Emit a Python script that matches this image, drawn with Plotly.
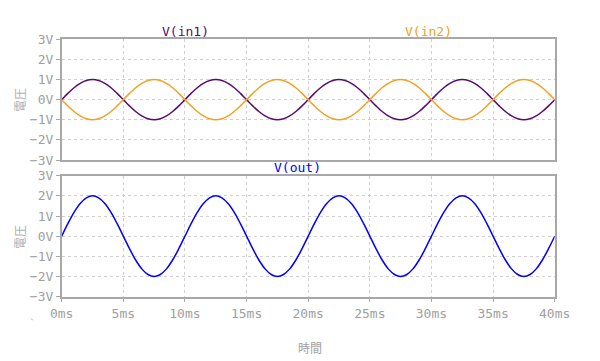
import plotly.graph_objects as go
from plotly.subplots import make_subplots

time_ms = [0, 0.5, 1, 1.5, 2, 2.5, 3, 3.5, 4, 4.5, 5, 5.5, 6, 6.5, 7, 7.5, 8, 8.5, 9, 9.5,
           10, 10.5, 11, 11.5, 12, 12.5, 13, 13.5, 14, 14.5, 15, 15.5, 16, 16.5, 17, 17.5, 18, 18.5, 19, 19.5,
           20, 20.5, 21, 21.5, 22, 22.5, 23, 23.5, 24, 24.5, 25, 25.5, 26, 26.5, 27, 27.5, 28, 28.5, 29, 29.5,
           30, 30.5, 31, 31.5, 32, 32.5, 33, 33.5, 34, 34.5, 35, 35.5, 36, 36.5, 37, 37.5, 38, 38.5, 39, 39.5,
           40]

v_in1 = [0, .31, .59, .81, .95, 1, .95, .81, .59, .31, 0, -.31, -.59, -.81, -.95, -1, -.95, -.81, -.59, -.31,
         0, .31, .59, .81, .95, 1, .95, .81, .59, .31, 0, -.31, -.59, -.81, -.95, -1, -.95, -.81, -.59, -.31,
         0, .31, .59, .81, .95, 1, .95, .81, .59, .31, 0, -.31, -.59, -.81, -.95, -1, -.95, -.81, -.59, -.31,
         0, .31, .59, .81, .95, 1, .95, .81, .59, .31, 0, -.31, -.59, -.81, -.95, -1, -.95, -.81, -.59, -.31,
         0]

v_in2 = [0, -.31, -.59, -.81, -.95, -1, -.95, -.81, -.59, -.31, 0, .31, .59, .81, .95, 1, .95, .81, .59, .31,
         0, -.31, -.59, -.81, -.95, -1, -.95, -.81, -.59, -.31, 0, .31, .59, .81, .95, 1, .95, .81, .59, .31,
         0, -.31, -.59, -.81, -.95, -1, -.95, -.81, -.59, -.31, 0, .31, .59, .81, .95, 1, .95, .81, .59, .31,
         0, -.31, -.59, -.81, -.95, -1, -.95, -.81, -.59, -.31, 0, .31, .59, .81, .95, 1, .95, .81, .59, .31,
         0]

v_out = [0, .62, 1.18, 1.62, 1.9, 2, 1.9, 1.62, 1.18, .62, 0, -.62, -1.18, -1.62, -1.9, -2, -1.9, -1.62, -1.18, -.62,
         0, .62, 1.18, 1.62, 1.9, 2, 1.9, 1.62, 1.18, .62, 0, -.62, -1.18, -1.62, -1.9, -2, -1.9, -1.62, -1.18, -.62,
         0, .62, 1.18, 1.62, 1.9, 2, 1.9, 1.62, 1.18, .62, 0, -.62, -1.18, -1.62, -1.9, -2, -1.9, -1.62, -1.18, -.62,
         0, .62, 1.18, 1.62, 1.9, 2, 1.9, 1.62, 1.18, .62, 0, -.62, -1.18, -1.62, -1.9, -2, -1.9, -1.62, -1.18, -.62,
         0]

y_ticks = [-3, -2, -1, 0, 1, 2, 3]
y_labels = ["−3V", "−2V", "−1V", "0V", "1V", "2V", "3V"]
x_ticks = [0, 5, 10, 15, 20, 25, 30, 35, 40]
x_labels = ["0ms", "5ms", "10ms", "15ms", "20ms", "25ms", "30ms", "35ms", "40ms"]

C_IN1 = "#5a0a6e"
C_IN2 = "#f5a020"
C_OUT = "#0000ff"
MONO = "DejaVu Sans Mono"
CJK = "Noto Sans CJK JP"
GRAY = "#a0a0a0"

W, H, OFF = 600, 361, 8  # page body margin offset

fig = make_subplots(rows=2, cols=1)
fig.add_trace(go.Scatter(x=time_ms, y=v_in1, mode="lines", line=dict(color=C_IN1, width=1.5, shape="spline"),
                         name="V(in1)", showlegend=False), row=1, col=1)
fig.add_trace(go.Scatter(x=time_ms, y=v_in2, mode="lines", line=dict(color=C_IN2, width=1.5, shape="spline"),
                         name="V(in2)", showlegend=False), row=1, col=1)
fig.add_trace(go.Scatter(x=time_ms, y=v_out, mode="lines", line=dict(color=C_OUT, width=1.5, shape="spline"),
                         name="V(out)", showlegend=False), row=2, col=1)


def px_x(p):
    return (p - OFF) / W


def px_y(p):
    return 1 - (p - OFF) / H


xd = [px_x(61.7), px_x(554.7)]


def axis(**kw):
    d = dict(showline=True, linecolor="#a8a8a8", linewidth=1.5, mirror=True,
             showgrid=True, gridcolor="#d0d0d0", griddash="3px,3px", gridwidth=1,
             zeroline=False, ticks="outside", ticklen=4, tickcolor="#a8a8a8",
             automargin=False,
             tickfont=dict(family=MONO, size=13, color=GRAY))
    d.update(kw)
    return d


fig.update_layout(
    width=W, height=H,
    margin=dict(l=0, r=0, t=0, b=0),
    paper_bgcolor="white", plot_bgcolor="white",
    xaxis=axis(domain=xd, range=[0, 40], tickmode="array", tickvals=x_ticks, showticklabels=False, ticks=""),
    yaxis=axis(domain=[px_y(160), px_y(39.3)], range=[-3, 3], tickmode="array", tickvals=y_ticks, ticktext=y_labels),
    xaxis2=axis(domain=xd, range=[0, 40], tickmode="array", tickvals=x_ticks, ticktext=x_labels),
    yaxis2=axis(domain=[px_y(296.7), px_y(175.7)], range=[-3, 3], tickmode="array", tickvals=y_ticks, ticktext=y_labels),
)

annos = [
    dict(text="V(in1)", x=185, y=31, color=C_IN1, size=13, font=MONO, angle=0),
    dict(text="V(in2)", x=428, y=31, color=C_IN2, size=13, font=MONO, angle=0),
    dict(text="V(out)", x=297, y=167, color=C_OUT, size=13, font=MONO, angle=0),
    dict(text="時間", x=310, y=347, color=GRAY, size=12, font=CJK, angle=0),
    dict(text="電圧", x=19, y=100, color="#b0b0b0", size=12, font=CJK, angle=-90),
    dict(text="電圧", x=19, y=237, color="#b0b0b0", size=12, font=CJK, angle=-90),
    dict(text="、", x=34, y=316, color="#c0c0c0", size=9, font=CJK, angle=0),
]
for a in annos:
    fig.add_annotation(text=a["text"], xref="paper", yref="paper",
                       x=px_x(a["x"]), y=px_y(a["y"]), showarrow=False,
                       xanchor="center", yanchor="middle", textangle=a["angle"],
                       font=dict(family=a["font"], size=a["size"], color=a["color"]))

fig.write_html("out.html")
